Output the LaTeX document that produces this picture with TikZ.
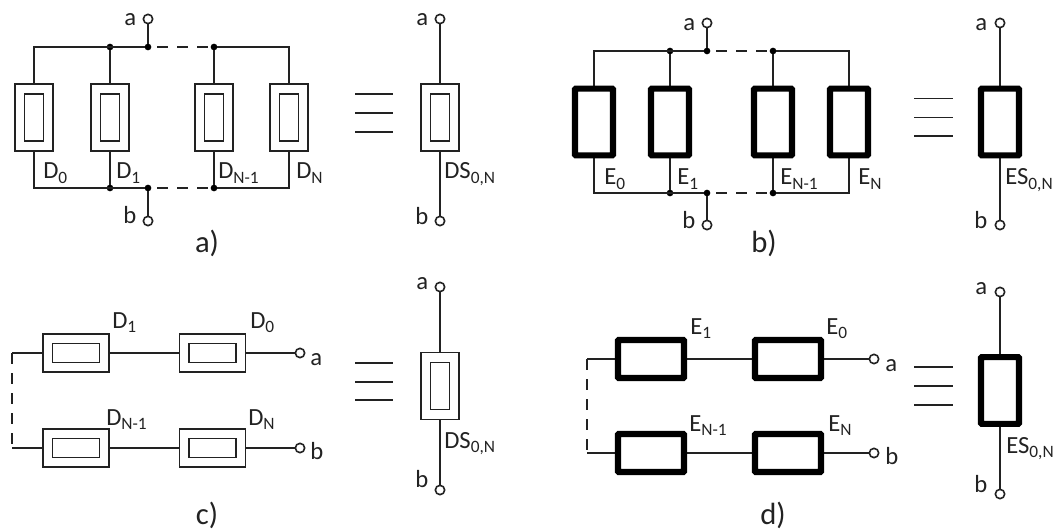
\documentclass[tikz,border=0pt]{standalone}
\usepackage{fontspec}
\setmainfont{Carlito}
\definecolor{ink}{HTML}{222222}
\newcommand{\lowtext}[1]{\raisebox{-0.18em}{\fontsize{13}{14}\selectfont #1}}
\newcommand{\VD}[3]{% double vertical device
  \node[outerd,minimum width=28.5pt,minimum height=50.25pt] (#1) at (#2,#3) {};
  \node[innerd,minimum width=14.5pt,minimum height=35.5pt] (#1i) at (#2,#3) {};}
\newcommand{\HD}[3]{% double horizontal device
  \node[outerd,minimum width=49.5pt,minimum height=28.5pt] (#1) at (#2,#3) {};
  \node[innerd,minimum width=35.5pt,minimum height=14.5pt] (#1i) at (#2,#3) {};}
\newcommand{\VE}[3]{\node[thickd,minimum width=28.5pt,minimum height=50pt] (#1) at (#2,#3) {};}
\newcommand{\HE}[3]{\node[thickd,minimum width=49.5pt,minimum height=28.5pt] (#1) at (#2,#3) {};}
\tikzset{
  outerd/.style={draw=ink,line width=1.2pt,fill=white,inner sep=0pt,outer sep=0pt},
  innerd/.style={draw=ink,line width=1.2pt,fill=white,inner sep=0pt,outer sep=0pt},
  thickd/.style={draw=black,line width=4.6pt,rounded corners=0.6pt,fill=white,inner sep=0pt,outer sep=0pt},
  wire/.style={draw=ink,line width=1.35pt},
  thinwire/.style={draw=ink,line width=1.1pt},
  dashwire/.style={draw=ink,line width=1.2pt,dash pattern=on 8pt off 7pt},
  term/.style={circle,draw=ink,line width=1.2pt,fill=white,minimum size=7pt,inner sep=0pt,outer sep=0pt},
  jdot/.style={circle,fill=black,minimum size=5pt,inner sep=0pt,outer sep=0pt},
  lab/.style={font=\fontsize{18.5}{20}\selectfont,text=ink,inner sep=0pt,anchor=base west},
  captext/.style={font=\fontsize{23}{25}\selectfont,text=ink,inner sep=0pt,anchor=base},
  eqbar/.style={draw=ink,line width=1.2pt}
}
\begin{document}
\begin{tikzpicture}[x=0.75pt,y=-0.75pt]
\useasboundingbox (0,0) rectangle (1056,531);
% ---------- panel a
\coordinate (atl) at (34,47); \coordinate (atr) at (289,47);
\coordinate (abl) at (34,188); \coordinate (abr) at (289,188);
\node[jdot] (aj1) at (110,47) {}; \node[jdot] (aj2) at (148,47) {}; \node[jdot] (aj3) at (214,47) {};
\node[jdot] (ak1) at (110,188) {}; \node[jdot] (ak2) at (148,188) {}; \node[jdot] (ak3) at (214,188) {};
\node[term] (ata) at (148,19) {}; \node[term] (atb) at (148,221) {};
\draw[wire] (aj2) -- (atl) -- (34,100) (aj2) -- (ata);
\draw[wire] (aj3) -- (atr) -- (289,100);
\draw[wire] (ak2) -- (abl) -- (34,120) (ak2) -- (atb);
\draw[wire] (ak3) -- (abr) -- (289,120);
\draw[dashwire] (aj2) ++(9,0) -- (aj3);
\draw[dashwire] (ak2) ++(9,0) -- (ak3);
\draw[wire] (aj1) -- (ak1) (aj3) -- (ak3);
\VD{a0}{34}{117.5} \VD{a1}{110}{117.5} \VD{a2}{214}{117.5} \VD{a3}{289}{117.5}
\node[lab] (la0) at (43,179) {D\lowtext{0}};
\node[lab] (la1) at (116,179) {D\lowtext{1}};
\node[lab] (la2) at (218,179) {D\lowtext{N-1}};
\node[lab] (la3) at (296,179) {D\lowtext{N}};
\node[lab] (laa) at (124,26) {a}; \node[lab] (lab) at (123,223) {b};
\node[captext] (capa) at (207,252) {a)};
% ---------- equivalent a
\node[term] (eata) at (440,19) {}; \node[term] (eatb) at (440,221) {};
\draw[wire] (eata) -- (eatb);
\VD{ea}{440}{117.5}
\node[lab] (lea) at (416,26) {a}; \node[lab] (leb) at (415,224) {b};
\node[lab] (lds) at (444,179) {DS\lowtext{0,N}};
\coordinate (ae1l) at (355,94); \coordinate (ae1r) at (393,94);
\coordinate (ae2l) at (355,113); \coordinate (ae2r) at (393,113);
\coordinate (ae3l) at (355,132); \coordinate (ae3r) at (393,132);
\draw[eqbar] (ae1l) -- (ae1r) (ae2l) -- (ae2r) (ae3l) -- (ae3r);
% ---------- panel b
\coordinate (btl) at (594,51); \coordinate (btr) at (849,51);
\coordinate (bbl) at (594,193); \coordinate (bbr) at (849,193);
\node[jdot] (bj1) at (670,51) {}; \node[jdot] (bj2) at (707,51) {}; \node[jdot] (bj3) at (773,51) {};
\node[jdot] (bk1) at (670,193) {}; \node[jdot] (bk2) at (707,193) {}; \node[jdot] (bk3) at (773,193) {};
\node[term] (bta) at (707,23) {}; \node[term] (btb) at (707,225) {};
\draw[thinwire] (bj2) -- (btl) -- (594,100) (bj2) -- (bta);
\draw[thinwire] (bj3) -- (btr) -- (849,100);
\draw[thinwire] (bk2) -- (bbl) -- (594,120) (bk2) -- (btb);
\draw[thinwire] (bk3) -- (bbr) -- (849,120);
\draw[dashwire] (bj2) ++(9,0) -- (bj3);
\draw[dashwire] (bk2) ++(9,0) -- (bk3);
\draw[thinwire] (bj1) -- (bk1) (bj3) -- (bk3);
\VE{b0}{594}{122} \VE{b1}{670}{122} \VE{b2}{773}{122} \VE{b3}{849}{122}
\node[lab] (lb0) at (604,185) {E\lowtext{0}};
\node[lab] (lb1) at (677,185) {E\lowtext{1}};
\node[lab] (lb2) at (780,185) {E\lowtext{N-1}};
\node[lab] (lb3) at (858,185) {E\lowtext{N}};
\node[lab] (lba) at (683,31) {a}; \node[lab] (lbb) at (682,228) {b};
\node[captext] (capb) at (764,252) {b)};
% ---------- equivalent b
\node[term] (ebta) at (1000,23) {}; \node[term] (ebtb) at (1000,225) {};
\draw[thinwire] (ebta) -- (ebtb);
\VE{eb}{1000}{122}
\node[lab] (lfa) at (975,31) {a}; \node[lab] (lfb) at (974,228) {b};
\node[lab] (les) at (1005,185) {ES\lowtext{0,N}};
\coordinate (be1l) at (914,98.5); \coordinate (be1r) at (953,98.5);
\coordinate (be2l) at (914,117.5); \coordinate (be2r) at (953,117.5);
\coordinate (be3l) at (914,136); \coordinate (be3r) at (953,136);
\draw[eqbar] (be1l) -- (be1r) (be2l) -- (be2r) (be3l) -- (be3r);
% ---------- panel c
\coordinate (ctl) at (12,353); \coordinate (cbl) at (12,448);
\node[term] (cta) at (300,353) {}; \node[term] (ctb) at (300,448) {};
\draw[wire] (ctl) -- (cta) (cbl) -- (ctb);
\draw[dashwire] (ctl) -- (cbl);
\HD{c1}{76}{353} \HD{c0}{212.5}{353} \HD{c2}{76}{448} \HD{c3}{212.5}{448}
\node[lab] (lc1) at (112,328) {D\lowtext{1}};
\node[lab] (lc0) at (250,328) {D\lowtext{0}};
\node[lab] (lc2) at (106,425) {D\lowtext{N-1}};
\node[lab] (lc3) at (248,425) {D\lowtext{N}};
\node[lab] (lca) at (310,365) {a}; \node[lab] (lcb) at (310,459) {b};
\node[captext] (capc) at (207,524) {c)};
% ---------- equivalent c
\node[term] (ecta) at (440,287) {}; \node[term] (ectb) at (440,490) {};
\draw[wire] (ecta) -- (ectb);
\node[outerd,minimum width=28.5pt,minimum height=50.25pt] (ec) at (440,386) {};
\node[innerd,minimum width=14.5pt,minimum height=35.5pt] (eci) at (440,386) {};
\node[lab] (lga) at (416,289) {a}; \node[lab] (lgb) at (415,487) {b};
\node[lab] (ldc) at (444,448) {DS\lowtext{0,N}};
\coordinate (ce1l) at (355,363); \coordinate (ce1r) at (393,363);
\coordinate (ce2l) at (355,382); \coordinate (ce2r) at (393,382);
\coordinate (ce3l) at (355,400); \coordinate (ce3r) at (393,400);
\draw[eqbar] (ce1l) -- (ce1r) (ce2l) -- (ce2r) (ce3l) -- (ce3r);
% ---------- panel d
\coordinate (dtl) at (587,359); \coordinate (dbl) at (587,453);
\node[term] (dta) at (874,359) {}; \node[term] (dtb) at (874,453) {};
\draw[thinwire] (dtl) -- (dta) (dbl) -- (dtb);
\draw[dashwire] (dtl) -- (dbl);
\HE{d1}{651}{359} \HE{d0}{788}{359} \HE{d2}{651}{453} \HE{d3}{788}{453}
\node[lab] (ld1) at (690,334) {E\lowtext{1}};
\node[lab] (ld0) at (826,334) {E\lowtext{0}};
\node[lab] (ld2) at (689,431) {E\lowtext{N-1}};
\node[lab] (ld3) at (828,431) {E\lowtext{N}};
\node[lab] (lda) at (885,371) {a}; \node[lab] (ldb) at (885,464) {b};
\node[captext] (capd) at (773,524) {d)};
% ---------- equivalent d
\node[term] (edta) at (1000,292) {}; \node[term] (edtb) at (1000,494) {};
\draw[thinwire] (edta) -- (edtb);
\VE{ed}{1000}{390.5}
\node[lab] (lha) at (975,294) {a}; \node[lab] (lhb) at (974,492) {b};
\node[lab] (led) at (1006,453) {ES\lowtext{0,N}};
\coordinate (de1l) at (914,367); \coordinate (de1r) at (953,367);
\coordinate (de2l) at (914,386); \coordinate (de2r) at (953,386);
\coordinate (de3l) at (914,405); \coordinate (de3r) at (953,405);
\draw[eqbar] (de1l) -- (de1r) (de2l) -- (de2r) (de3l) -- (de3r);
\end{tikzpicture}
\end{document}
